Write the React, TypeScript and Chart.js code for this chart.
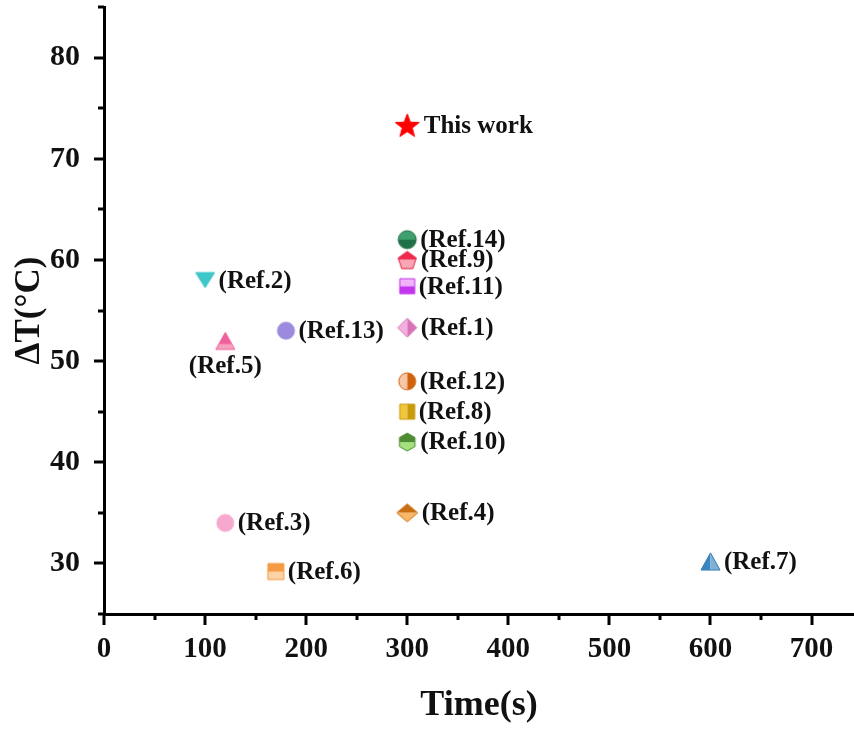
import React, { useEffect, useRef } from 'react';
import { Chart, registerables } from 'chart.js';

Chart.register(...registerables);

// ---- data ----
const pointLabels = ['This work', '(Ref.14)', '(Ref.9)', '(Ref.11)', '(Ref.1)', '(Ref.12)', '(Ref.8)', '(Ref.10)', '(Ref.4)', '(Ref.2)', '(Ref.5)', '(Ref.13)', '(Ref.3)', '(Ref.6)', '(Ref.7)'];
const timeValues = [300, 300, 300, 300, 300, 300, 300, 300, 300, 100, 120, 180, 120, 170, 600];
const deltaTValues = [73.3, 62, 60, 57.4, 53.3, 48, 45, 42, 35, 58, 52, 53, 34, 29.2, 30.2];

const xMajorTicks = [0, 100, 200, 300, 400, 500, 600, 700];
const xMinorTicks = [50, 150, 250, 350, 450, 550, 650];
const yMajorTicks = [30, 40, 50, 60, 70, 80];
const yMinorTicks = [25, 35, 45, 55, 65, 75, 85];

// ---- styles ----
const markerShapes = ['star', 'circle', 'pentagon', 'square', 'diamond', 'circle', 'square', 'hexagon', 'diamondWide', 'triangleDown', 'triangleUp', 'circle', 'circle', 'square', 'triangleUp'];
const markerSplits = ['none', 'TB', 'TB', 'TB', 'LR', 'LR', 'LR', 'TB', 'TB', 'none', 'TB70', 'none', 'none', 'TB', 'LR'];
const markerColorA = ['#ff0000', '#3f9f6e', '#f0284e', '#f2b4f8', '#f3b0dc', '#f7c6a6', '#f2c63a', '#4d8c32', '#c96d12', '#3fc6c9', '#f0609a', '#9c8ade', '#f6a9cd', '#f59b45', '#3a86c0'];
const markerColorB = ['#ff0000', '#1f7048', '#f9a6b6', '#c436ee', '#d873ba', '#d1620c', '#c99a0c', '#a4e07e', '#f9b866', '#3fc6c9', '#f6a0c0', '#9c8ade', '#f6a9cd', '#fbd3a6', '#7fb2d6'];
const markerStroke = ['#ff0000', '#1f7048', '#e8203f', '#c436ee', '#d873ba', '#d1620c', '#c99a0c', '#4d8c32', '#c96d12', '#3fc6c9', '#f0609a', '#9c8ade', '#f6a9cd', '#f59b45', '#2f78b0'];
const markerSizes = [25, 18, 19, 15, 19, 17, 15, 18, 21, 19, 19, 17, 17, 16, 19];
const labelPlacement = ['right', 'right', 'right', 'right', 'right', 'right', 'right', 'right', 'right', 'right', 'below', 'right', 'right', 'right', 'right'];

const SERIF = "'Liberation Serif', 'Times New Roman', serif";

function polygon(path: Path2D, cx: number, cy: number, r: number, n: number, start: number) {
  for (let k = 0; k < n; k++) {
    const a = start + (k * 2 * Math.PI) / n;
    const px = cx + r * Math.cos(a);
    const py = cy + r * Math.sin(a);
    if (k === 0) path.moveTo(px, py);
    else path.lineTo(px, py);
  }
  path.closePath();
}

function makeMarker(shape: string, split: string, c1: string, c2: string, stroke: string, size: number) {
  const pad = 2;
  const c = document.createElement('canvas');
  c.width = size + pad * 2;
  c.height = size + pad * 2;
  const ctx = c.getContext('2d')!;
  const cx = c.width / 2;
  const cy = c.height / 2;
  const r = size / 2;
  const p = new Path2D();
  let splitY = cy;
  switch (shape) {
    case 'star': {
      for (let k = 0; k < 10; k++) {
        const a = -Math.PI / 2 + (k * Math.PI) / 5;
        const rr = k % 2 === 0 ? r : r * 0.42;
        const px = cx + rr * Math.cos(a);
        const py = cy + 1 + rr * Math.sin(a);
        if (k === 0) p.moveTo(px, py);
        else p.lineTo(px, py);
      }
      p.closePath();
      break;
    }
    case 'circle':
      p.arc(cx, cy, r, 0, Math.PI * 2);
      break;
    case 'pentagon':
      polygon(p, cx, cy + 1, r, 5, -Math.PI / 2);
      break;
    case 'hexagon':
      polygon(p, cx, cy, r, 6, -Math.PI / 2);
      break;
    case 'square':
      p.rect(cx - r, cy - r, size, size);
      break;
    case 'diamond':
      p.moveTo(cx, cy - r);
      p.lineTo(cx + r, cy);
      p.lineTo(cx, cy + r);
      p.lineTo(cx - r, cy);
      p.closePath();
      break;
    case 'diamondWide': {
      const h = r * 0.85;
      p.moveTo(cx, cy - h);
      p.lineTo(cx + r, cy);
      p.lineTo(cx, cy + h);
      p.lineTo(cx - r, cy);
      p.closePath();
      break;
    }
    case 'triangleUp': {
      const h = r * 0.9;
      p.moveTo(cx, cy - h);
      p.lineTo(cx + r, cy + h);
      p.lineTo(cx - r, cy + h);
      p.closePath();
      splitY = cy + h * 0.4;
      break;
    }
    case 'triangleDown': {
      const h = r * 0.8;
      p.moveTo(cx - r, cy - h);
      p.lineTo(cx + r, cy - h);
      p.lineTo(cx, cy + h);
      p.closePath();
      break;
    }
  }
  ctx.save();
  ctx.clip(p);
  if (split === 'none') {
    ctx.fillStyle = c1;
    ctx.fillRect(0, 0, c.width, c.height);
  } else if (split === 'LR') {
    ctx.fillStyle = c1;
    ctx.fillRect(0, 0, cx, c.height);
    ctx.fillStyle = c2;
    ctx.fillRect(cx, 0, c.width - cx, c.height);
  } else {
    const sy = split === 'TB70' ? splitY : cy;
    ctx.fillStyle = c1;
    ctx.fillRect(0, 0, c.width, sy);
    ctx.fillStyle = c2;
    ctx.fillRect(0, sy, c.width, c.height - sy);
  }
  ctx.restore();
  ctx.strokeStyle = stroke;
  ctx.lineWidth = 1;
  ctx.stroke(p);
  return c;
}

const tickMarksPlugin = {
  id: 'tickMarks',
  afterDraw(chart: any) {
    const ctx = chart.ctx;
    const xs = chart.scales.x;
    const ys = chart.scales.y;
    const bottom = chart.chartArea.bottom;
    const left = chart.chartArea.left;
    ctx.save();
    ctx.strokeStyle = '#000';
    ctx.lineWidth = 3;
    ctx.lineCap = 'butt';
    const drawX = (v: number, len: number) => {
      const px = Math.round(xs.getPixelForValue(v));
      ctx.beginPath();
      ctx.moveTo(px, bottom);
      ctx.lineTo(px, bottom + len);
      ctx.stroke();
    };
    const drawY = (v: number, len: number) => {
      const py = Math.round(ys.getPixelForValue(v));
      ctx.beginPath();
      ctx.moveTo(left, py);
      ctx.lineTo(left - len, py);
      ctx.stroke();
    };
    xMajorTicks.forEach((v) => drawX(v, 11));
    xMinorTicks.forEach((v) => drawX(v, 6));
    yMajorTicks.forEach((v) => drawY(v, 10));
    yMinorTicks.forEach((v) => drawY(v, 6));
    ctx.restore();
  },
};

const pointLabelPlugin = {
  id: 'pointLabels',
  afterDatasetsDraw(chart: any) {
    const ctx = chart.ctx;
    const meta = chart.getDatasetMeta(0);
    ctx.save();
    ctx.fillStyle = '#111';
    ctx.font = `bold 25px ${SERIF}`;
    meta.data.forEach((el: any, i: number) => {
      const txt = pointLabels[i];
      if (labelPlacement[i] === 'below') {
        ctx.textAlign = 'center';
        ctx.textBaseline = 'middle';
        ctx.fillText(txt, el.x, el.y + 26);
      } else {
        ctx.textAlign = 'left';
        ctx.textBaseline = 'middle';
        ctx.fillText(txt, el.x + markerSizes[i] / 2 + 4, el.y + 1);
      }
    });
    ctx.restore();
  },
};

export default function App() {
  const ref = useRef<HTMLCanvasElement | null>(null);
  useEffect(() => {
    if (!ref.current) return;
    const images = markerShapes.map((s, i) => makeMarker(s, markerSplits[i], markerColorA[i], markerColorB[i], markerStroke[i], markerSizes[i]));
    const chart = new Chart(ref.current, {
      type: 'scatter',
      data: {
        datasets: [
          {
            data: timeValues.map((x, i) => ({ x, y: deltaTValues[i] })),
            pointStyle: images as any,
            pointRadius: markerSizes.map((s) => s / 2),
            backgroundColor: markerColorA,
            borderColor: markerStroke,
          },
        ],
      },
      options: {
        responsive: false,
        animation: false,
        events: [],
        layout: { autoPadding: false, padding: { left: 0, right: 0, top: 7, bottom: 0 } },
        plugins: { legend: { display: false }, tooltip: { enabled: false } },
        scales: {
          x: {
            type: 'linear',
            min: 0,
            max: 742,
            grid: { display: false },
            border: { display: true, color: '#000', width: 3 },
            afterBuildTicks: (scale: any) => {
              scale.ticks = xMajorTicks.map((v) => ({ value: v }));
            },
            afterFit: (scale: any) => {
              scale.height = 117;
              scale.paddingLeft = 0;
              scale.paddingRight = 0;
            },
            ticks: {
              autoSkip: false,
              maxRotation: 0,
              padding: 10,
              color: '#111',
              font: { family: SERIF, size: 29, weight: 'bold' },
            },
            title: {
              display: true,
              text: 'Time(s)',
              color: '#111',
              padding: { top: 4, bottom: 4 },
              font: { family: SERIF, size: 36, weight: 'bold' },
            },
          },
          y: {
            type: 'linear',
            min: 25,
            max: 85,
            grid: { display: false },
            border: { display: true, color: '#000', width: 3 },
            afterBuildTicks: (scale: any) => {
              scale.ticks = yMajorTicks.map((v) => ({ value: v }));
            },
            afterFit: (scale: any) => {
              scale.width = 104;
              scale.paddingTop = 0;
              scale.paddingBottom = 0;
            },
            ticks: {
              padding: 16,
              color: '#111',
              font: { family: SERIF, size: 30, weight: 'bold' },
            },
            title: {
              display: true,
              text: 'ΔT(°C)',
              color: '#111',
              padding: { top: 9, bottom: 9 },
              font: { family: SERIF, size: 35, weight: 'bold' },
            },
          },
        },
      },
      plugins: [tickMarksPlugin, pointLabelPlugin],
    });
    return () => chart.destroy();
  }, []);
  return (
    <div style={{ position: 'fixed', left: 0, top: 0, width: 854, height: 731, background: '#fff' }}>
      <canvas ref={ref} width={854} height={731} style={{ width: 854, height: 731 }} />
    </div>
  );
}
